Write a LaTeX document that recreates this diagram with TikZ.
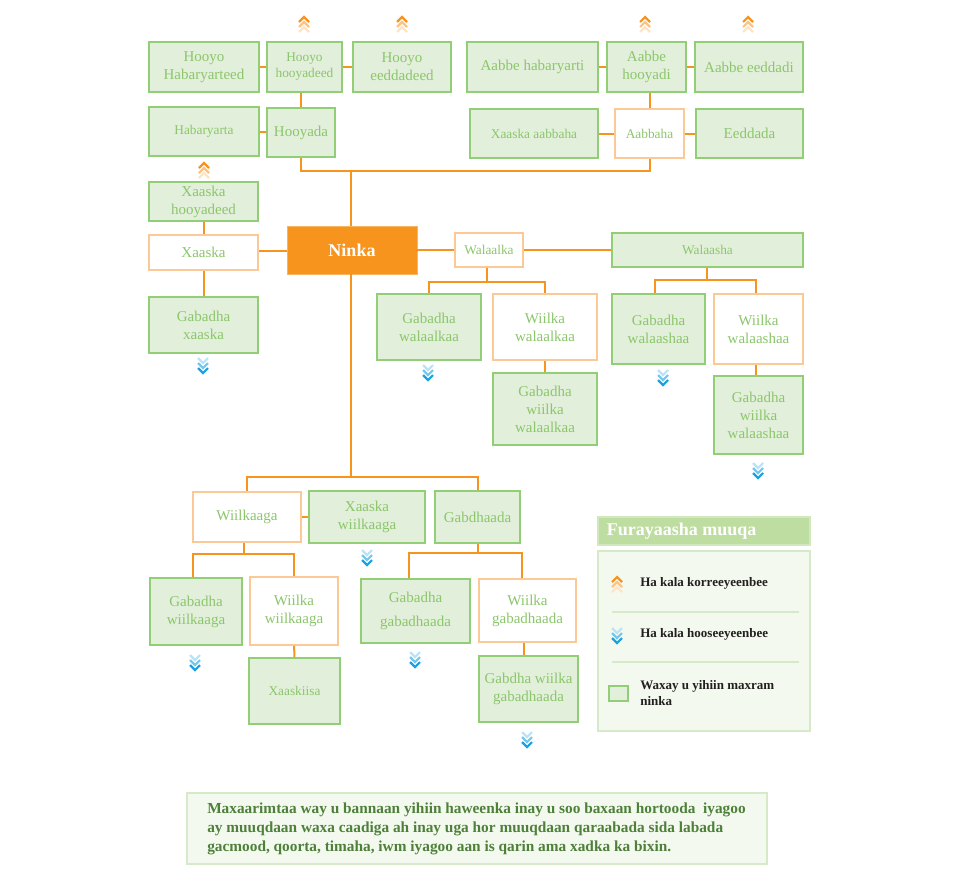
\documentclass[tikz,border=0pt]{standalone}
\usepackage{fontspec}
\setmainfont{Liberation Serif}
\usepackage{xcolor}
\usepackage{tikz}
\usetikzlibrary{positioning, calc}
\definecolor{lnk}{RGB}{247,148,30}
\definecolor{fillg}{RGB}{226,239,218}
\definecolor{brdg}{RGB}{146,206,118}
\definecolor{txtg}{RGB}{140,198,108}
\definecolor{brdo}{RGB}{251,200,150}
\definecolor{blu}{RGB}{27,161,226}
\definecolor{legt}{RGB}{190,221,160}
\definecolor{legb}{RGB}{243,249,239}
\definecolor{legl}{RGB}{214,234,201}
\definecolor{note}{RGB}{78,128,58}
\definecolor{ink}{RGB}{35,31,32}

\begin{document}
\begin{tikzpicture}[
    x=0.75pt, y=-0.75pt,
    box/.style={rectangle, align=center, text=txtg, inner sep=1pt, line width=1.2pt},
    gbox/.style={box, draw=brdg, fill=fillg},
    wbox/.style={box, draw=brdo, fill=white},
    big/.style={font=\fontsize{11.25}{13.4}\selectfont},
    sml/.style={font=\fontsize{10}{12}\selectfont},
    sz/.style 2 args={minimum width=#1*0.75pt, minimum height=#2*0.75pt},
    link/.style={draw=lnk, line width=1.5pt},
    legtxt/.style={text=ink, font=\fontsize{9.75}{12.5}\selectfont\bfseries, align=left, anchor=west, inner sep=0pt},
    upmk/.pic={
      \foreach \k/\c in {0/lnk, 1/lnk!55, 2/lnk!25}
        \draw[\c, line width=1.6pt] (-5,5*\k+5) -- (0,5*\k) -- (5,5*\k+5);
    },
    dnmk/.pic={
      \foreach \k/\c in {0/blu!30, 1/blu!60, 2/blu}
        \draw[\c, line width=1.6pt] (-5,5*\k) -- (0,5*\k+5) -- (5,5*\k);
    },
]
  \useasboundingbox (0,0) rectangle (960,882);

  % grandparents
  \node[gbox, big, sz={110}{50}] (hhab) at (204,67)    {Hooyo\\Habaryarteed};
  \node[gbox, sml, sz={75}{50}]  (hhoo) at (304.5,67)  {Hooyo\\hooyadeed};
  \node[gbox, big, sz={98}{50}]  (heed) at (402,67)    {Hooyo\\eeddadeed};
  \node[gbox, big, sz={131}{50}] (ahab) at (532.5,67)  {Aabbe habaryarti};
  \node[gbox, big, sz={79}{50}]  (ahoo) at (646.5,67)  {Aabbe\\hooyadi};
  \node[gbox, big, sz={108}{50}] (aeed) at (749,67)    {Aabbe eeddadi};

  % parents
  \node[gbox, sml, sz={110}{49}] (hab)  at (204,131.5) {Habaryarta};
  \node[gbox, big, sz={68}{49}]  (hoo)  at (301,132.5) {Hooyada};
  \node[gbox, sml, sz={128}{49}] (xaab) at (534,133.5) {Xaaska aabbaha};
  \node[wbox, sml, sz={69}{49}]  (aab)  at (649.5,133.5) {Aabbaha};
  \node[gbox, big, sz={107}{49}] (eed)  at (749.5,133.5) {Eeddada};

  % wife side
  \node[gbox, big, sz={109}{39}] (xhoo) at (203.5,201.5) {Xaaska\\hooyadeed};
  \node[wbox, big, sz={109}{35}] (xaa)  at (203.5,252.5) {Xaaska};
  \node[gbox, big, sz={109}{56}] (gxaa) at (203.5,325)   {Gabadha\\xaaska};

  \node[fill=lnk, draw=lnk!70, text=white, font=\fontsize{13.5}{16}\selectfont\bfseries,
        sz={130}{48}] (ninka) at (352,250) {Ninka};

  % siblings
  \node[wbox, sml, sz={68}{34}]  (wal)   at (489,250)   {Walaalka};
  \node[gbox, sml, sz={191}{34}] (wls)   at (707.5,250) {Walaasha};
  \node[gbox, big, sz={104}{66}] (gwal)  at (429,327)   {Gabadha\\walaalkaa};
  \node[wbox, big, sz={104}{66}] (wwal)  at (545,327)   {Wiilka\\walaalkaa};
  \node[gbox, big, sz={104}{72}] (gwwal) at (545,409)   {Gabadha\\wiilka\\walaalkaa};
  \node[gbox, big, sz={93}{70}]  (gwls)  at (658.5,329) {Gabadha\\walaashaa};
  \node[wbox, big, sz={89}{70}]  (wwls)  at (758.5,329) {Wiilka\\walaashaa};
  \node[gbox, big, sz={89}{78}]  (gwwls) at (758.5,415) {Gabadha\\wiilka\\walaashaa};

  % children
  \node[wbox, big, sz={108}{50}] (wii)   at (247,517)   {Wiilkaaga};
  \node[gbox, big, sz={116}{52}] (xwii)  at (367,517)   {Xaaska\\wiilkaaga};
  \node[gbox, big, sz={85}{52}]  (gab)   at (477.5,517) {Gabdhaada};
  \node[gbox, big, sz={92}{67}]  (gwii)  at (196,611.5) {Gabadha\\wiilkaaga};
  \node[wbox, big, sz={88}{68}]  (wwii)  at (294,611)   {Wiilka\\wiilkaaga};
  \node[gbox, sml, sz={91}{66}]  (xwwii) at (294.5,691) {Xaaskiisa};
  \node[gbox, big, sz={109}{64}] (ggab)  at (415.5,611) {Gabadha\\[5pt]gabadhaada};
  \node[wbox, big, sz={97}{63}]  (wgab)  at (527.5,610.5) {Wiilka\\gabadhaada};
  \node[gbox, big, sz={99}{66}]  (gwgab) at (528.5,689) {Gabdha wiilka\\gabadhaada};

  \coordinate (pbus)  at (351,171);
  \coordinate (wbus)  at (487,282);
  \coordinate (sbus)  at (707,280);
  \coordinate (cbus)  at (351,477);
  \coordinate (wibus) at (244,554);
  \coordinate (gbus)  at (478,553);

  \draw[link] (hhab) -- (hhoo);
  \draw[link] (hhoo) -- (heed);
  \draw[link] (hoo.north) -- (hoo.north |- hhoo.south);
  \draw[link] (hab) -- (hoo);
  \draw[link] (ahab) -- (ahoo);
  \draw[link] (ahoo) -- (aeed);
  \draw[link] (aab.north) -- (aab.north |- ahoo.south);
  \draw[link] (xaab) -- (aab);
  \draw[link] (aab) -- (eed);
  \draw[link] (hoo.south) |- (pbus) -| (aab.south);
  \draw[link] (ninka.north -| pbus) -- (pbus);

  \draw[link] (xhoo) -- (xaa);
  \draw[link] (xaa) -- (gxaa);
  \draw[link] ([yshift=-1pt]ninka.west) -- ([yshift=-1pt]ninka.west -| xaa.east);
  \draw[link] (ninka) -- (wal);
  \draw[link] (wal) -- (wls);

  \draw[link] (wal.south -| wbus) -- (wbus);
  \draw[link] (gwal.north) |- (wbus) -| (wwal.north);
  \draw[link] (wwal) -- (gwwal);
  \draw[link] (wls.south -| sbus) -- (sbus);
  \draw[link] ([xshift=-3pt]gwls.north) |- (sbus) -| ([xshift=-2pt]wwls.north);
  \draw[link] ([xshift=-2pt]wwls.south) -- ([xshift=-2pt]gwwls.north);

  \draw[link] (ninka.south -| cbus) -- (cbus);
  \draw[link] (wii.north) |- (cbus) -| (gab.north);
  \draw[link] (wii) -- (xwii);
  \draw[link] (wii.south -| wibus) -- (wibus);
  \draw[link] ([xshift=-2pt]gwii.north) |- (wibus) -| (wwii.north);
  \draw[link] (wwii) -- (xwwii);
  \draw[link] (gab.south -| gbus) -- (gbus);
  \draw[link] ([xshift=-5pt]ggab.north) |- (gbus) -| ([xshift=-4pt]wgab.north);
  \draw[link] ([xshift=-3pt]wgab.south) -- ([xshift=-3pt]wgab.south |- gwgab.north);

  % legend
  \node[fill=legt, draw=legt!70, line width=1pt, sz={212}{28}] (legtitle) at (704,531) {};
  \node[text=white, font=\fontsize{13.5}{15}\selectfont\bfseries, anchor=west, inner sep=0pt]
    (legname) at ([xshift=7pt]legtitle.west) {Furayaasha muuqa};
  \node[fill=legb, draw=legl, line width=1.5pt, sz={212}{180}] (legbody) at (704,641) {};
  \draw[legl, line width=1.2pt] (612,612) -- (799,612);
  \draw[legl, line width=1.2pt] (612,662) -- (799,662);
  \node[legtxt] (legup) at (640,583) {Ha kala korreeyeenbee};
  \node[legtxt] (legdn) at (640,634) {Ha kala hooseeyeenbee};
  \node[gbox, line width=1pt, sz={19}{15}] (legsq) at (618.5,693.5) {};
  \node[legtxt] (legsqtxt) at (640,693) {Waxay u yihiin maxram\\ninka};

  % up / down marks
  \foreach \p in {(304,17), (402,17), (645,17), (748,17), (204,163), (617,577)}
    \pic at \p {upmk};
  \foreach \p in {(203,358), (428,365), (663,370), (758,463), (367,550),
                  (195,655), (415,652), (527,732), (617,628)}
    \pic at \p {dnmk};

  % note
  \node[fill=legb, draw=legl, line width=2pt, sz={580}{71}] (notebox) at (477,828.5) {};
  \node[text=note, font=\fontsize{11.5}{14.5}\selectfont\bfseries, align=left, anchor=west, inner sep=0pt]
    (notetxt) at (207,829) {Maxaarimtaa way u bannaan yihiin haweenka inay u soo baxaan hortooda\ \ iyagoo\\
    ay muuqdaan waxa caadiga ah inay uga hor muuqdaan qaraabada sida labada\\
    gacmood, qoorta, timaha, iwm iyagoo aan is qarin ama xadka ka bixin.};
\end{tikzpicture}
\end{document}
